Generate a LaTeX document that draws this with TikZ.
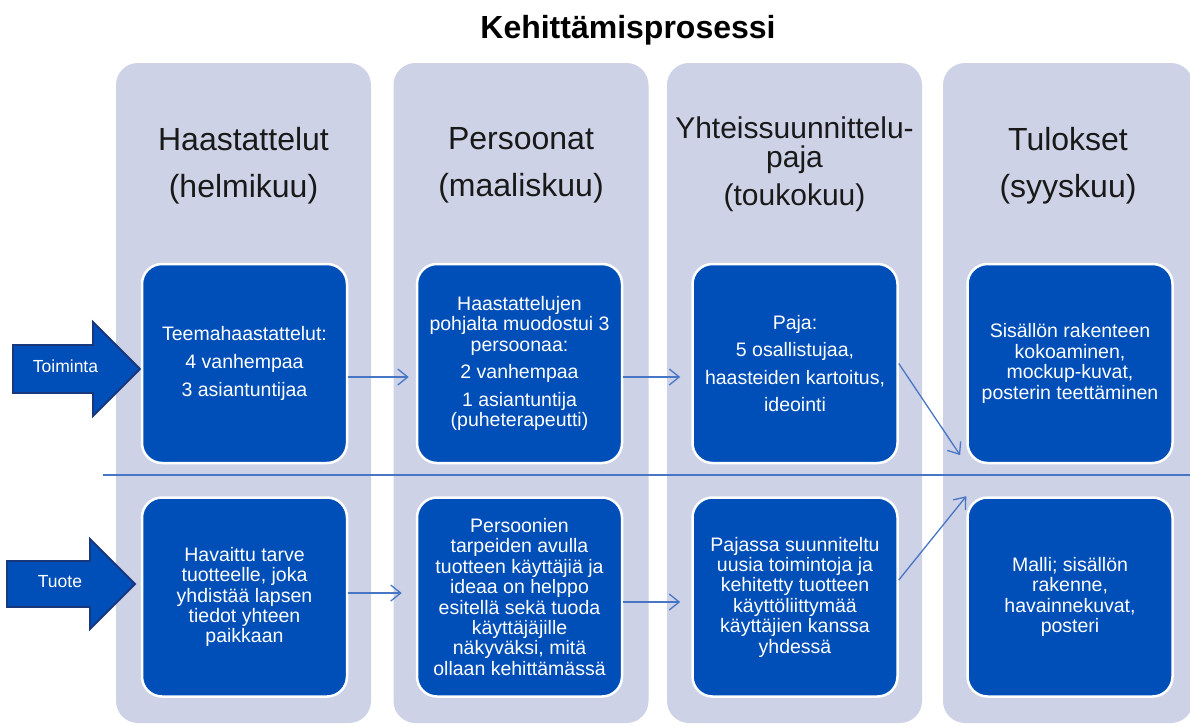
\documentclass[tikz,border=0pt]{standalone}
\usepackage{fontspec}
\setmainfont{Liberation Sans}
\usetikzlibrary{arrows.meta}
\definecolor{lanefill}{RGB}{205,210,230}
\definecolor{boxblue}{RGB}{0,79,185}
\definecolor{arrowedge}{RGB}{25,55,125}
\definecolor{lineblue}{RGB}{72,118,196}
\definecolor{headtext}{RGB}{25,25,25}
\lineskiplimit=-100pt

\begin{document}
\begin{tikzpicture}[x=1pt, y=-1pt, >={Straight Barb[length=10pt,width=16pt]}]
	\tikzstyle{lane} = [rectangle, rounded corners=22pt, fill=lanefill, minimum width=255pt, minimum height=660pt, inner sep=0pt]
	\tikzstyle{lanehead} = [anchor=north, inner sep=0pt, align=center, text=headtext, font=\fontsize{32}{25}\selectfont]
	\tikzstyle{stage} = [rectangle, rounded corners=20pt, fill=boxblue, draw=white, line width=2.5pt, minimum width=205pt, minimum height=199pt, text=white, align=center, font=\fontsize{19.5}{20.4}\selectfont]
	\tikzstyle{bigarrow} = [fill=boxblue, draw=arrowedge, line width=1.8pt, line join=miter]
	\tikzstyle{rowlabel} = [text=white, font=\fontsize{17.5}{20}\selectfont]
	\tikzstyle{flow} = [->, draw=lineblue, line width=1.3pt]
	\useasboundingbox (0,0) rectangle (1190,726);

	\node (title) [anchor=base, font=\fontsize{32}{36}\selectfont\bfseries] at (628,38) {Kehittämisprosessi};

	% columns
	\node (colHaast) [lane] at (243.5,393) {};
	\node (colPers) [lane] at (521,393) {};
	\node (colPaja) [lane] at (794.5,393) {};
	\node (colTulos) [lane, minimum width=250pt] at (1068,393) {};
	\node (headHaast) [lanehead] at (243.5,127) {Haastattelut\\[22pt](helmikuu)};
	\node (headPers) [lanehead] at (521,127) {Persoonat\\[22pt](maaliskuu)};
	\node (headPaja) [lanehead, font=\fontsize{30}{29}\selectfont] at (794.5,117) {Yhteissuunnittelu-\\paja\\[9pt](toukokuu)};
	\node (headTulos) [lanehead] at (1068,127) {Tulokset\\[22pt](syyskuu)};

	\coordinate (sepL) at (103,475);
	\coordinate (sepR) at (1190,475);
	\draw [lineblue, line width=1.3pt] (sepL) -- (sepR);

	% row arrows
	\draw [bigarrow] (13,345) -- (93,345) -- (93,322) -- (140,369) -- (93,416) -- (93,393) -- (13,393) -- cycle;
	\node (toiminta) [rowlabel] at (65.5,366) {Toiminta};
	\draw [bigarrow] (7,561) -- (90,561) -- (90,539) -- (135,584) -- (90,629) -- (90,607) -- (7,607) -- cycle;
	\node (tuote) [rowlabel] at (60,582) {Tuote};

	% Toiminta row
	\node (haastToim) [stage] at (244.5,363.5) {Teemahaastattelut:\\[8pt]4 vanhempaa\\[8pt]3 asiantuntijaa};
	\node (persToim) [stage] at (519.5,363.5) {Haastattelujen\\pohjalta muodostui 3\\persoonaa:\\[7pt]2 vanhempaa\\[7pt]1 asiantuntija\\(puheterapeutti)};
	\node (pajaToim) [stage] at (795,363.5) {Paja:\\[7pt]5 osallistujaa,\\[7pt]haasteiden kartoitus,\\[7pt]ideointi};
	\node (tulosToim) [stage] at (1070,363.5) {Sisällön rakenteen\\kokoaminen,\\mockup-kuvat,\\posterin teettäminen};

	% Tuote row
	\node (haastTuote) [stage] at (244.5,597) {Havaittu tarve\\tuotteelle, joka\\yhdistää lapsen\\tiedot yhteen\\paikkaan};
	\node (persTuote) [stage] at (519.5,597) {Persoonien\\tarpeiden avulla\\tuotteen käyttäjiä ja\\ideaa on helppo\\esitellä sekä tuoda\\käyttäjäjille\\näkyväksi, mitä\\ollaan kehittämässä};
	\node (pajaTuote) [stage] at (795,597) {Pajassa suunniteltu\\uusia toimintoja ja\\kehitetty tuotteen\\käyttöliittymää\\käyttäjien kanssa\\yhdessä};
	\node (tulosTuote) [stage] at (1070,597) {Malli; sisällön\\rakenne,\\havainnekuvat,\\posteri};

	\draw [flow, shorten >=7pt] ([yshift=-13.5pt]haastToim.east) -- ([yshift=-13.5pt]persToim.west);
	\draw [flow, shorten >=11pt] ([yshift=-13.5pt]persToim.east) -- ([yshift=-13.5pt]pajaToim.west);
	\draw [flow, shorten >=11pt] (pajaToim.east) -- (tulosToim.south west);
	\draw [flow, shorten >=14pt] ([yshift=4pt]haastTuote.east) -- ([yshift=4pt]persTuote.west);
	\draw [flow, shorten >=11pt] ([yshift=-5pt]persTuote.east) -- ([yshift=-5pt]pajaTuote.west);
	\draw [flow] ([yshift=17pt]pajaTuote.east) -- (tulosTuote.north west);
\end{tikzpicture}
\end{document}
